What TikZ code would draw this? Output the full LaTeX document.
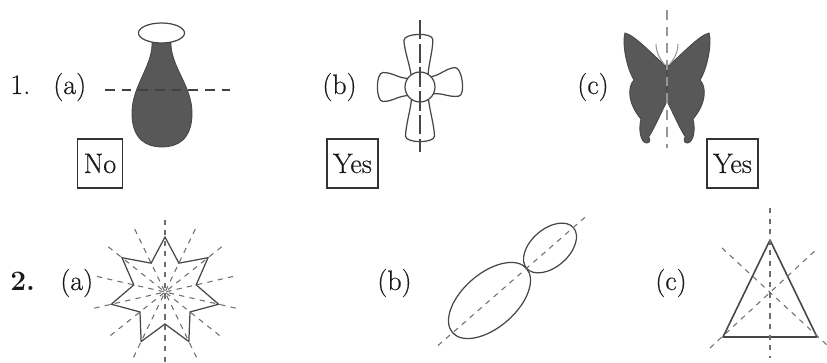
\documentclass[tikz,border=0pt]{standalone}
\usepackage{fontspec}
\setmainfont{Latin Modern Roman}[UprightFeatures={FakeBold=0.4}]
\usepackage{tikz}
\definecolor{myink}{RGB}{70,70,70}
\definecolor{myfill}{RGB}{88,88,88}
\definecolor{mylight}{RGB}{150,150,150}
\definecolor{mydash}{RGB}{110,110,110}
\tikzset{
  tag/.style={font=\fontsize{16}{19}\selectfont, anchor=base west,
    inner sep=0pt, text=black!90},
  ansbox/.style={draw=black!80, line width=0.7pt, font=\fontsize{16}{19}\selectfont,
    minimum height=0.98cm, inner xsep=3.5pt, text=black!90},
  outline/.style={line width=0.7pt, draw=myink},
  symaxis/.style={line width=0.7pt, color=black!75, dash pattern=on 5.5pt off 4pt},
  fineaxis/.style={line width=0.6pt, color=mydash, dash pattern=on 3pt off 3pt}
}

\begin{document}
\begin{tikzpicture}
  \useasboundingbox (0,0) rectangle (16.54,7.24);

  % ── Row 1 labels and answers ─────────────────────────────────────────────
  \node[tag] (one) at (0.20,5.36) {1.};
  \node[tag] (la) at (1.06,5.36) {(a)};
  \node[tag] (lb) at (6.44,5.36) {(b)};
  \node[tag] (lc) at (11.54,5.36) {(c)};
  \node[ansbox] (ansa) at (2.00,3.97) {No};
  \node[ansbox] (ansb) at (7.05,3.97) {Yes};
  \node[ansbox] (ansc) at (14.65,3.97) {Yes};

  % Vase
  \filldraw[fill=myfill, draw=myink, line width=0.5pt]
    (3.04,6.44) .. controls (3.08,5.94) and (2.64,5.54) .. (2.64,4.98)
    .. controls (2.64,4.44) and (2.94,4.30) .. (3.24,4.30)
    .. controls (3.54,4.30) and (3.84,4.44) .. (3.84,4.98)
    .. controls (3.84,5.54) and (3.38,5.94) .. (3.42,6.44) -- cycle;
  \draw[outline, fill=white] (3.23,6.58) ellipse (0.46 and 0.20);
  \draw[symaxis] (2.10,5.44) -- (4.60,5.44);

  % Flower
  \begin{scope}[shift={(8.40,5.50)}]
    \foreach \ang/\len in {92/1.06, 8/0.86, 180/0.86, 270/1.10}{
      \begin{scope}[rotate=\ang]
        \draw[outline, fill=white] (0.25,-0.17)
          .. controls (0.5,-0.2) and ({\len-0.35},-0.28) .. ({\len-0.12},-0.29)
          .. controls ({\len+0.03},-0.29) and ({\len+0.03},0.29) .. ({\len-0.12},0.29)
          .. controls ({\len-0.35},0.28) and (0.5,0.2) .. (0.25,0.17) -- cycle;
      \end{scope}
    }
    \draw[outline, fill=white] (0,0) circle (0.30);
    \draw[line width=0.6pt, color=myink, dash pattern=on 11pt off 2.5pt] (0,1.34) -- (0,-1.30);
  \end{scope}

  % Butterfly
  \begin{scope}[xshift=13.34cm]
    \filldraw[fill=myfill, draw=myink, line width=0.5pt]
      (0,5.90) .. controls (-0.30,6.15) and (-0.62,6.52) .. (-0.84,6.58)
      .. controls (-0.90,6.40) and (-0.82,5.90) .. (-0.66,5.64)
      .. controls (-0.80,5.50) and (-0.78,5.16) .. (-0.52,4.86)
      .. controls (-0.58,4.62) and (-0.52,4.38) .. (-0.40,4.38)
      .. controls (-0.33,4.38) and (-0.33,4.48) .. (-0.37,4.50)
      .. controls (-0.30,4.58) and (-0.12,4.98) .. (0,5.22)
      .. controls (0.12,4.98) and (0.30,4.58) .. (0.37,4.50)
      .. controls (0.33,4.48) and (0.33,4.38) .. (0.40,4.38)
      .. controls (0.52,4.38) and (0.58,4.62) .. (0.52,4.86)
      .. controls (0.78,5.16) and (0.80,5.50) .. (0.66,5.64)
      .. controls (0.82,5.90) and (0.90,6.40) .. (0.84,6.58)
      .. controls (0.62,6.52) and (0.30,6.15) .. (0,5.90) -- cycle;
    % antennae and body
    \draw[mylight, line width=0.6pt] (-0.04,5.94) .. controls (-0.14,6.05) and (-0.22,6.20) .. (-0.22,6.36);
    \draw[mylight, line width=0.6pt] (0.04,5.94) .. controls (0.14,6.05) and (0.22,6.20) .. (0.22,6.36);
    \draw[black!70, line width=1.2pt] (0,5.88) -- (0,5.30);
    \draw[symaxis, color=mylight] (0,7.04) -- (0,4.28);
  \end{scope}

  % ── Row 2 labels ─────────────────────────────────────────────────────────
  \node[tag, font=\fontsize{16}{19}\selectfont\bfseries] (two) at (0.20,1.44) {2.};
  \node[tag] (ma) at (1.20,1.44) {(a)};
  \node[tag] (mb) at (7.54,1.44) {(b)};
  \node[tag] (mc) at (13.10,1.44) {(c)};

  % Seven-pointed star
  \begin{scope}[shift={(3.30,1.40)}]
    \draw[outline, line join=miter] (90:1.10)
      \foreach \k in {1,...,6}{ -- ({90+\k*360/7-180/7}:0.64) -- ({90+\k*360/7}:1.10) }
      -- ({90-180/7}:0.64) -- cycle;
    \foreach \k in {0,...,6}
      \draw[fineaxis] ({90+\k*360/7}:1.45) -- ({270+\k*360/7}:1.42);
  \end{scope}

  % Two ellipses
  \draw[outline, rotate around={41:(9.79,1.23)}] (9.79,1.23) ellipse (0.98 and 0.54);
  \draw[outline, rotate around={41:(11.00,2.28)}] (11.00,2.28) ellipse (0.62 and 0.38);
  \draw[fineaxis] (8.76,0.33) -- (11.73,2.92);

  % Triangle
  \draw[outline, line width=0.9pt, line join=round] (15.40,2.44) -- (14.46,0.50) -- (16.34,0.50) -- cycle;
  \draw[fineaxis] (15.40,3.08) -- (15.40,0.08);
  \draw[fineaxis] (14.44,2.28) -- (16.54,0.34);
  \draw[fineaxis] (14.20,0.28) -- (16.36,2.28);
\end{tikzpicture}
\end{document}
